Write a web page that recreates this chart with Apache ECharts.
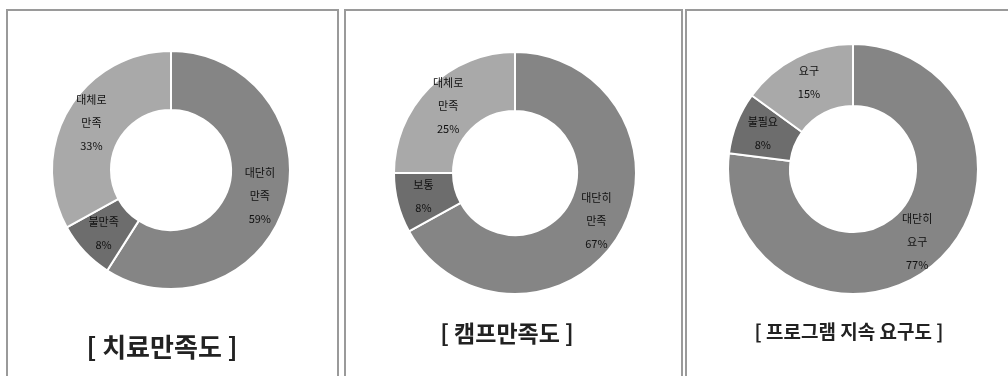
<!DOCTYPE html>
<html>
<head>
<meta charset="utf-8">
<script src="https://cdn.jsdelivr.net/npm/echarts@6/dist/echarts.min.js"></script>
<style>
html,body{margin:0;padding:0;background:#fff;}
#c{width:1008px;height:376px;}
</style>
</head>
<body>
<div id="c"></div>
<script>
// ---- data ----
const titles = ['[ 치료만족도 ]', '[ 캠프만족도 ]', '[ 프로그램 지속 요구도 ]'];
const cats1 = ['대단히 만족', '불만족', '대체로 만족'];
const vals1 = [59, 8, 33];
const cats2 = ['대단히 만족', '보통', '대체로 만족'];
const vals2 = [67, 8, 25];
const cats3 = ['대단히 요구', '불필요', '요구'];
const vals3 = [77, 8, 15];

const sliceColors = ['#858585', '#6d6d6d', '#a9a9a9'];
const font = '"Noto Sans CJK KR", "Noto Sans", sans-serif';

function mk(cats, vals) {
  return cats.map((c, i) => ({ name: c, value: vals[i], itemStyle: { color: sliceColors[i] } }));
}

const layouts = [
  { center: [171, 170], radius: [60, 119] },
  { center: [515, 173], radius: [62, 121] },
  { center: [853, 169], radius: [63, 125] }
];
const datasets = [mk(cats1, vals1), mk(cats2, vals2), mk(cats3, vals3)];

const series = datasets.map((d, i) => ({
  type: 'pie',
  center: layouts[i].center,
  radius: layouts[i].radius,
  startAngle: 90,
  clockwise: true,
  silent: true,
  animation: false,
  itemStyle: { borderColor: '#ffffff', borderWidth: 2 },
  label: {
    show: true,
    position: 'inside',
    color: '#111',
    fontSize: 11,
    fontFamily: font,
    lineHeight: 23,
    formatter: p => p.name.split(' ').join('\n') + '\n' + p.value + '%'
  },
  labelLine: { show: false },
  data: d
}));

const titlePos = [
  { x: 162, y: 347, size: 26 },
  { x: 507, y: 333, size: 23 },
  { x: 849, y: 332, size: 19 }
];

const graphic = [
  { type: 'rect', shape: { x: 7, y: 10, width: 331, height: 380 }, style: { fill: 'none', stroke: '#9a9a9a', lineWidth: 2 } },
  { type: 'rect', shape: { x: 345, y: 10, width: 337, height: 380 }, style: { fill: 'none', stroke: '#9a9a9a', lineWidth: 2 } },
  { type: 'rect', shape: { x: 686, y: 10, width: 340, height: 380 }, style: { fill: 'none', stroke: '#9a9a9a', lineWidth: 2 } }
].concat(titles.map((t, i) => ({
  type: 'text',
  x: titlePos[i].x,
  y: titlePos[i].y,
  style: {
    text: t,
    fill: '#222',
    font: 'bold ' + titlePos[i].size + 'px ' + font,
    textAlign: 'center',
    textVerticalAlign: 'middle'
  }
})));

const chart = echarts.init(document.getElementById('c'));
chart.setOption({
  backgroundColor: '#ffffff',
  animation: false,
  series: series,
  graphic: graphic
});
</script>
</body>
</html>
